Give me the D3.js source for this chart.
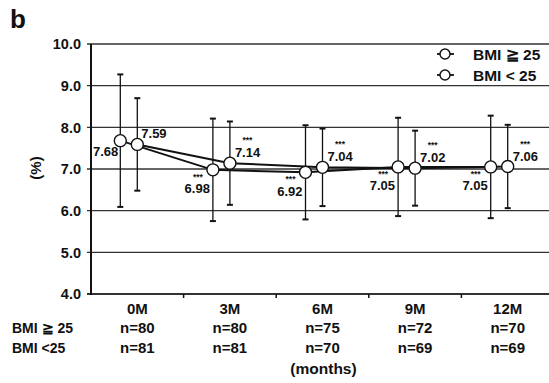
<!DOCTYPE html>
<html>
<head>
<meta charset="utf-8">
<script src="https://cdn.jsdelivr.net/npm/d3@7"></script>
<style>
  body { margin: 0; background: #fff; }
  svg { font-family: "Liberation Sans", Arial, sans-serif; font-weight: bold; }
</style>
</head>
<body>
<svg id="chart" width="549" height="383"></svg>
<script>
const months = ["0M", "3M", "6M", "9M", "12M"];
const seriesNames = ["BMI \u2267 25", "BMI < 25"];
const highMean = [7.68, 6.98, 6.92, 7.05, 7.05];
const highSd = [1.59, 1.23, 1.13, 1.18, 1.23];
const lowMean = [7.59, 7.14, 7.04, 7.02, 7.06];
const lowSd = [1.11, 1.0, 0.93, 0.9, 1.0];
const highN = ["n=80", "n=80", "n=75", "n=72", "n=70"];
const lowN = ["n=81", "n=81", "n=70", "n=69", "n=69"];
const stars = ["", "***", "***", "***", "***"];
const yTicks = [4, 5, 6, 7, 8, 9, 10];

const svg = d3.select('#chart');
const ink = '#111';

const x = d3.scaleBand().domain(months).range([91, 554]);
const y = d3.scaleLinear().domain([4, 10]).range([294, 44]);
const offset = -17; // BMI>=25 points sit left of the band centre

const cx = (m, i) => x(m) + x.bandwidth() / 2 + (i === 0 ? offset : 0);

// panel letter
svg.append('text')
  .attr('x', 10).attr('y', 28)
  .attr('font-size', 26).attr('fill', ink)
  .text('b');

// gridlines
svg.append('g')
  .selectAll('line')
  .data(yTicks)
  .join('line')
  .attr('x1', 87).attr('x2', 554)
  .attr('y1', d => y(d)).attr('y2', d => y(d))
  .attr('stroke', '#333')
  .attr('stroke-width', d => d === 4 ? 2 : 1.3);

// y tick labels
svg.append('g')
  .selectAll('text')
  .data(yTicks)
  .join('text')
  .attr('x', 81)
  .attr('y', d => y(d))
  .attr('dy', '0.36em')
  .attr('text-anchor', 'end')
  .attr('font-size', 14.5)
  .attr('fill', ink)
  .text(d => d.toFixed(1));

// y axis line
svg.append('line')
  .attr('x1', 91).attr('x2', 91)
  .attr('y1', y(10)).attr('y2', y(4) + 1)
  .attr('stroke', ink).attr('stroke-width', 2);

// x ticks at band boundaries
svg.append('g')
  .selectAll('line')
  .data(months.slice(1))
  .join('line')
  .attr('x1', d => x(d)).attr('x2', d => x(d))
  .attr('y1', y(4)).attr('y2', y(4) + 4)
  .attr('stroke', ink).attr('stroke-width', 1.5);

// y label
svg.append('text')
  .attr('transform', `translate(41, ${y(7) - 1}) rotate(-90)`)
  .attr('text-anchor', 'middle')
  .attr('font-size', 15)
  .attr('fill', ink)
  .text('(%)');

// x labels and n rows
const labelRows = [
  { vals: months, yy: 314 },
  { vals: highN, yy: 333 },
  { vals: lowN, yy: 353 }
];
labelRows.forEach(r => {
  svg.append('g')
    .selectAll('text')
    .data(r.vals)
    .join('text')
    .attr('x', (d, i) => x(months[i]) + x.bandwidth() / 2)
    .attr('y', r.yy)
    .attr('text-anchor', 'middle')
    .attr('font-size', 15)
    .attr('fill', ink)
    .text(d => d);
});

svg.append('text')
  .attr('x', x('6M') + x.bandwidth() / 2 + 1)
  .attr('y', 374)
  .attr('text-anchor', 'middle')
  .attr('font-size', 15.5)
  .attr('fill', ink)
  .text('(months)');

svg.append('text')
  .attr('x', 12).attr('y', 333)
  .attr('font-size', 14).attr('fill', ink)
  .text('BMI \u2267 25');
svg.append('text')
  .attr('x', 12).attr('y', 353)
  .attr('font-size', 14).attr('fill', ink)
  .text('BMI <25');

const series = [
  { means: highMean, sds: highSd },
  { means: lowMean, sds: lowSd }
];

// error bars
series.forEach((s, si) => {
  const g = svg.append('g').attr('stroke', ink).attr('stroke-width', 1.3);
  months.forEach((m, i) => {
    const xx = cx(m, si);
    const top = y(s.means[i] + s.sds[i]);
    const bot = y(s.means[i] - s.sds[i]);
    g.append('line').attr('x1', xx).attr('x2', xx).attr('y1', top).attr('y2', bot);
    g.append('line').attr('x1', xx - 3).attr('x2', xx + 3).attr('y1', top).attr('y2', top).attr('stroke-width', 2);
    g.append('line').attr('x1', xx - 3).attr('x2', xx + 3).attr('y1', bot).attr('y2', bot).attr('stroke-width', 2);
  });
});

// lines
const line = d3.line().x(d => d[0]).y(d => d[1]);
series.forEach((s, si) => {
  svg.append('path')
    .attr('d', line(months.map((m, i) => [cx(m, si), y(s.means[i])])))
    .attr('fill', 'none')
    .attr('stroke', ink)
    .attr('stroke-width', 2);
});

// points
series.forEach((s, si) => {
  svg.append('g')
    .selectAll('circle')
    .data(s.means)
    .join('circle')
    .attr('cx', (d, i) => cx(months[i], si))
    .attr('cy', d => y(d))
    .attr('r', 6)
    .attr('fill', '#fff')
    .attr('stroke', ink)
    .attr('stroke-width', 1.4);
});

// value labels with significance stars
const numSize = 13;
function valueLabel(xNum, anchor, xStar, yStar, yNum, star, v) {
  if (star) {
    svg.append('text')
      .attr('x', xStar).attr('y', yStar)
      .attr('text-anchor', 'middle')
      .attr('font-size', 8.5)
      .attr('fill', ink)
      .text(star);
  }
  svg.append('text')
    .attr('x', xNum).attr('y', yNum)
    .attr('text-anchor', anchor)
    .attr('font-size', numSize)
    .attr('fill', ink)
    .text(v.toFixed(2));
}
// high group: below-left of point
highMean.forEach((v, i) => {
  const xx = cx(months[i], 0);
  const yy = y(v);
  valueLabel(xx - (i === 0 ? 2 : 3), 'end', xx - 15, yy + 10,
    yy + (i === 0 ? 15 : 23.5), stars[i], v);
});
// low group: above-right of point
lowMean.forEach((v, i) => {
  const xx = cx(months[i], 1);
  const yy = y(v);
  const start = xx + (i === 0 ? 4 : 5);
  valueLabel(start, 'start', start + 12.5, yy - 20, yy - 6, stars[i], v);
});

// legend
const legend = svg.append('g');
seriesNames.forEach((name, i) => {
  const ly = 54 + i * 21;
  legend.append('line')
    .attr('x1', 437).attr('x2', 454).attr('y1', ly).attr('y2', ly)
    .attr('stroke', ink).attr('stroke-width', 1.8);
  legend.append('circle')
    .attr('cx', 445).attr('cy', ly).attr('r', 5)
    .attr('fill', '#fff').attr('stroke', ink).attr('stroke-width', 1.4);
  legend.append('text')
    .attr('x', 473).attr('y', ly).attr('dy', '0.36em')
    .attr('font-size', 15.5).attr('fill', ink)
    .text(name);
});
</script>
</body>
</html>
